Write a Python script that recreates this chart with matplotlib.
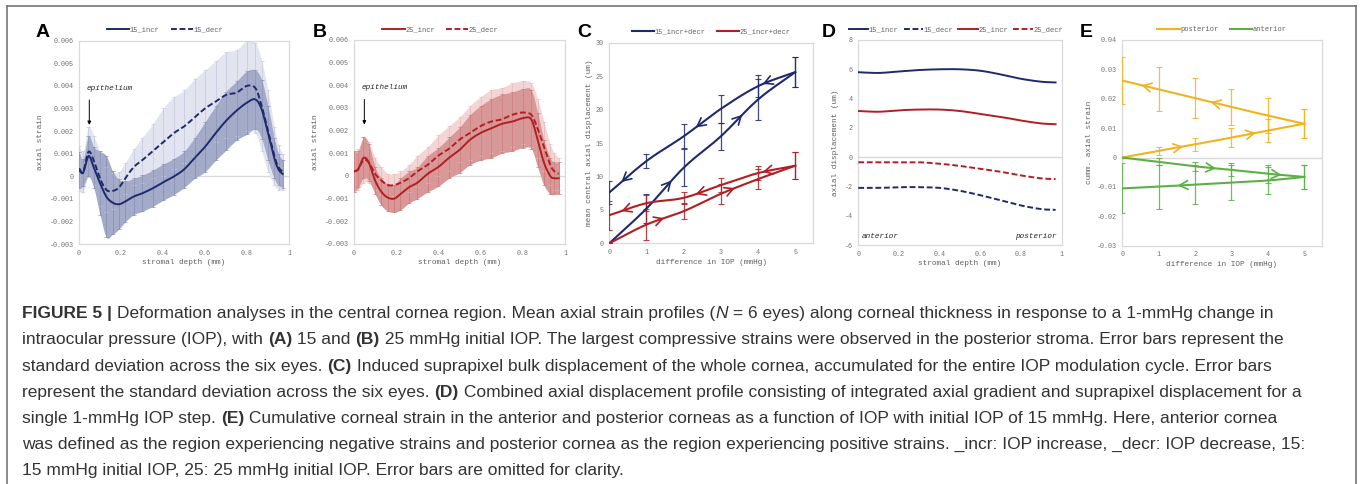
import numpy as np
import matplotlib
matplotlib.use("Agg")
import matplotlib.pyplot as plt
from matplotlib.lines import Line2D
from matplotlib.font_manager import FontProperties
from matplotlib.ticker import FixedLocator, FuncFormatter

W, H, DPI = 1360, 484, 100

# ---------------- panel A : 15 mmHg initial IOP ----------------
depth_ab = [0, 0.02, 0.045, 0.07, 0.1, 0.13, 0.16, 0.19, 0.22, 0.26, 0.3, 0.35, 0.4,
            0.45, 0.5, 0.55, 0.6, 0.65, 0.7, 0.75, 0.8, 0.84, 0.87, 0.9, 0.93, 0.95, 0.97]
strain_15_incr = [0.00028, 0.00016, 0.00089, 0.0004, -0.0003, -0.0009, -0.00117, -0.00124,
                  -0.00112, -0.0009, -0.00076, -0.00054, -0.00027, -0.00002, 0.0003, 0.0008,
                  0.0013, 0.0019, 0.00245, 0.0029, 0.00326, 0.0034, 0.00296, 0.0019, 0.0008,
                  0.0003, 0.0001]
sd_15_incr = [0.0008, 0.0006, 0.0009, 0.0009, 0.0014, 0.0018, 0.0014, 0.0011, 0.0009, 0.0008,
              0.0008, 0.0008, 0.0008, 0.0008, 0.0008, 0.0009, 0.0011, 0.0012, 0.0013, 0.0013,
              0.0014, 0.0013, 0.0013, 0.0012, 0.0009, 0.0007, 0.0006]
strain_15_decr = [0.00035, 0.0002, 0.00108, 0.0007, -0.0001, -0.0006, -0.00065, -0.0005,
                  -0.0001, 0.0004, 0.0007, 0.0011, 0.0015, 0.0019, 0.0022, 0.0026, 0.0030,
                  0.0033, 0.0036, 0.0037, 0.0040, 0.0039, 0.0031, 0.0020, 0.0009, 0.0004, 0.0002]
sd_15_decr = [0.001, 0.0009, 0.0011, 0.0011, 0.0012, 0.001, 0.0008, 0.0007, 0.0007, 0.0008,
              0.001, 0.0012, 0.0015, 0.0016, 0.0016, 0.0017, 0.0017, 0.0018, 0.0019, 0.0019,
              0.002, 0.002, 0.002, 0.0018, 0.0013, 0.001, 0.0008]

# ---------------- panel B : 25 mmHg initial IOP ----------------
strain_25_incr = [0.0002, 0.0003, 0.0008, 0.0006, -0.0002, -0.0007, -0.00095, -0.001, -0.0008,
                  -0.0005, -0.0003, 0.0001, 0.0004, 0.0008, 0.00115, 0.0016, 0.0019, 0.0021,
                  0.0023, 0.0024, 0.00255, 0.0025, 0.0016, 0.0006, 0.0, -0.0001, -0.0001]
sd_25_incr = [0.0009, 0.0008, 0.0009, 0.0008, 0.0006, 0.0006, 0.0006, 0.0006, 0.0007, 0.0007,
              0.0007, 0.0008, 0.00085, 0.0009, 0.001, 0.0011, 0.0012, 0.0013, 0.0013, 0.0013,
              0.0013, 0.0013, 0.0012, 0.001, 0.0008, 0.0007, 0.0007]
strain_25_decr = [0.0002, 0.0003, 0.0007, 0.0006, 0.0001, -0.0002, -0.0004, -0.0004, -0.0003,
                  -0.0001, 0.0002, 0.0005, 0.0009, 0.0012, 0.0016, 0.0019, 0.0022, 0.0024,
                  0.0025, 0.0027, 0.0028, 0.0027, 0.0021, 0.0013, 0.0005, 0.0002, 0.0001]
sd_25_decr = [0.0009, 0.0009, 0.001, 0.0009, 0.0007, 0.0006, 0.0005, 0.0005, 0.0005, 0.0006,
              0.0007, 0.0008, 0.0009, 0.001, 0.001, 0.0012, 0.0013, 0.0014, 0.0014, 0.0014,
              0.0014, 0.0014, 0.0013, 0.0011, 0.0009, 0.0008, 0.0007]

# ---------------- panel C : bulk displacement ----------------
iop_diff = [0, 1, 2, 3, 4, 5]
disp_15_incr = [0, 5.2, 11.3, 16.0, 21.5, 25.6]
disp_15_decr = [7.6, 12.3, 16.0, 20.1, 23.5, 25.6]
sdc_15_incr = [0, 2.1, 2.8, 2.0, 3.0, 2.2]
sdc_15_decr = [1.7, 1.1, 1.8, 2.1, 1.6, 2.2]
disp_25_incr = [0, 2.8, 4.8, 7.4, 9.6, 11.6]
disp_25_decr = [4.2, 6.0, 6.8, 8.7, 10.5, 11.6]
sdc_25_incr = [0, 2.3, 1.2, 1.5, 1.5, 2.0]
sdc_25_decr = [2.2, 1.2, 0.9, 1.0, 1.0, 2.0]

# ---------------- panel D : combined displacement profile ----------------
depth_d = [0, 0.1, 0.2, 0.3, 0.4, 0.5, 0.6, 0.7, 0.8, 0.9, 0.97]
prof_15_incr = [5.8, 5.75, 5.85, 5.95, 6.0, 6.0, 5.9, 5.65, 5.35, 5.15, 5.1]
prof_15_decr = [-2.1, -2.1, -2.05, -2.05, -2.1, -2.3, -2.6, -2.95, -3.3, -3.55, -3.6]
prof_25_incr = [3.15, 3.1, 3.2, 3.25, 3.25, 3.15, 2.95, 2.75, 2.5, 2.3, 2.25]
prof_25_decr = [-0.35, -0.35, -0.35, -0.35, -0.45, -0.6, -0.8, -1.0, -1.25, -1.45, -1.5]

# ---------------- panel E : cumulative strain ----------------
post_incr = [0, 0.0023, 0.0045, 0.0068, 0.0092, 0.0115]
post_decr = [0.0262, 0.0232, 0.0202, 0.0172, 0.0143, 0.0115]
post_incr_sd = [0, 0.0013, 0.0022, 0.0033, 0.004, 0.005]
post_decr_sd = [0.008, 0.0075, 0.0067, 0.006, 0.0058, 0.005]
ant_incr = [0, -0.0015, -0.003, -0.0042, -0.0055, -0.0066]
ant_decr = [-0.0105, -0.0099, -0.0092, -0.0085, -0.0078, -0.0066]
ant_incr_sd = [0, 0.0012, 0.0015, 0.0022, 0.003, 0.0041]
ant_decr_sd = [0.0085, 0.0075, 0.0065, 0.006, 0.0047, 0.0041]

NAVY = "#1f2a6e"
RED = "#b21e24"
GOLD = "#f2b320"
GREEN = "#5bb046"
SPINE = "#d9d9d9"
TICK = "#727272"
MONO = "Liberation Mono"
SANS = "Liberation Sans"


def smooth(x, y, n=16):
    """Catmull-Rom path through the points (smoothed line rendering)."""
    P = np.column_stack([np.asarray(x, float), np.asarray(y, float)])
    P = np.vstack([2 * P[0] - P[1], P, 2 * P[-1] - P[-2]])
    t = np.linspace(0, 1, n, endpoint=False)[:, None]
    out = []
    for i in range(1, len(P) - 2):
        p0, p1, p2, p3 = P[i - 1], P[i], P[i + 1], P[i + 2]
        out.append(0.5 * (2 * p1 + (-p0 + p2) * t + (2 * p0 - 5 * p1 + 4 * p2 - p3) * t ** 2
                          + (-p0 + 3 * p1 - 3 * p2 + p3) * t ** 3))
    out.append(P[-2][None])
    r = np.vstack(out)
    return r[:, 0], r[:, 1]


def px_axes(fig, l, r, t, b):
    return fig.add_axes([l / W, 1 - b / H, (r - l) / W, (b - t) / H])


def style_axes(ax, xticks, yticks, xlabel, ylabel, ylabelpad=4):
    for s in ax.spines.values():
        s.set_color(SPINE)
        s.set_linewidth(0.9)
    ax.tick_params(length=0, labelsize=4.9, labelcolor=TICK, pad=4)
    ax.xaxis.set_major_locator(FixedLocator(xticks))
    ax.yaxis.set_major_locator(FixedLocator(yticks))
    fmt = FuncFormatter(lambda v, p: f"{v:g}")
    ax.xaxis.set_major_formatter(fmt)
    ax.yaxis.set_major_formatter(fmt)
    for lab in ax.get_xticklabels() + ax.get_yticklabels():
        lab.set_family(MONO)
    ax.set_xlabel(xlabel, family=MONO, fontsize=5.6, color="#606060", labelpad=2)
    ax.set_ylabel(ylabel, family=MONO, fontsize=5.6, color="#606060", labelpad=ylabelpad)


def legend(ax, handles, labels, xc, hl=3.2, cs=1.6):
    lg = ax.legend(handles, labels, loc="lower center", bbox_to_anchor=(xc, 1.0), ncol=len(labels),
                   frameon=False, handlelength=hl, handletextpad=0.1, columnspacing=cs,
                   borderaxespad=0.6, prop=FontProperties(family=MONO, size=5))
    for t in lg.get_texts():
        t.set_color("#606060")


def strain_panel(ax, m_incr, s_incr, m_decr, s_decr, col, light, dark, bar_l, bar_d, lab):
    x = np.asarray(depth_ab)
    for m, s, fc, bc in ((m_decr, s_decr, light, bar_l), (m_incr, s_incr, dark, bar_d)):
        m = np.asarray(m)
        s = np.asarray(s)
        xs, lo = smooth(x, m - s)
        _, hi = smooth(x, m + s)
        ax.fill_between(xs, lo, hi, color=fc, lw=0, zorder=2)
        ax.errorbar(x, m, yerr=s, fmt="none", ecolor=bc, elinewidth=0.6, capsize=1.2,
                    capthick=0.5, zorder=3)
    ax.axhline(0, color=SPINE, lw=1, zorder=1)
    xs, ys = smooth(x, m_incr)
    ax.plot(xs, ys, color=col, lw=1.4, zorder=5)
    xs, ys = smooth(x, m_decr)
    ax.plot(xs, ys, color=col, lw=1.4, ls=(0, (3, 1.4)), zorder=5)
    ax.set_xlim(0, 1)
    ax.set_ylim(-0.003, 0.006)
    style_axes(ax, [0, 0.2, 0.4, 0.6, 0.8, 1], np.round(np.arange(-0.003, 0.0061, 0.001), 3),
               "stromal depth (mm)", "axial strain")
    legend(ax, [Line2D([], [], color=col, lw=1.4), Line2D([], [], color=col, lw=1.4, ls=(0, (3, 1.4)))],
           [f"{lab}_incr", f"{lab}_decr"], 0.41)
    ax.annotate("", xy=(0.049, 0.00215), xytext=(0.049, 0.0035),
                arrowprops=dict(arrowstyle="-|>", color="black", lw=0.7, mutation_scale=5))
    ax.text(0.037, 0.0039, "epithelium", family=MONO, style="italic", fontsize=5.5,
            va="center", color="#222222")


def arrows_on(ax, xs, ys, positions, forward, col, lw):
    for p in positions:
        i = int(np.argmin(np.abs(xs - p)))
        j = i + 3 if forward else i - 3
        ax.annotate("", xy=(xs[j], ys[j]), xytext=(xs[i], ys[i]),
                    arrowprops=dict(arrowstyle="->,head_length=0.6,head_width=0.32", color=col,
                                    lw=lw, shrinkA=0, shrinkB=0), zorder=6)


fig = plt.figure(figsize=(W / DPI, H / DPI), dpi=DPI)

# outer frame of the figure block
for xs_, ys_ in (([7, 7], [H, 6]), ([7, 1356], [6, 6]), ([1356, 1356], [6, H])):
    fig.add_artist(Line2D(np.array(xs_) / W, 1 - np.array(ys_) / H, color="#6b6b6b", lw=1.1))

# panel letters
for letter, xp in (("A", 36), ("B", 313), ("C", 577), ("D", 822), ("E", 1080)):
    fig.text(xp / W, 1 - 37 / H, letter, family=SANS, weight="bold", fontsize=14, va="baseline")

# A
axA = px_axes(fig, 79, 289, 40.7, 244)
strain_panel(axA, strain_15_incr, sd_15_incr, strain_15_decr, sd_15_decr, NAVY,
             "#e2e5ef", "#a4abc8", "#c8cde0", "#8a92b6", "15")
# B
axB = px_axes(fig, 354, 565, 40, 244)
strain_panel(axB, strain_25_incr, sd_25_incr, strain_25_decr, sd_25_decr, RED,
             "#f3d5d5", "#d99898", "#ebbdbd", "#c97d7d", "25")

# C
axC = px_axes(fig, 609.3, 812.7, 42.7, 243.3)
x = np.asarray(iop_diff, float)
for inc, dec, s_inc, s_dec, col in ((disp_15_incr, disp_15_decr, sdc_15_incr, sdc_15_decr, NAVY),
                                    (disp_25_incr, disp_25_decr, sdc_25_incr, sdc_25_decr, RED)):
    axC.errorbar(x, inc, yerr=s_inc, fmt="none", ecolor=col, elinewidth=0.9, capsize=2,
                 capthick=0.8, alpha=0.85, zorder=3)
    axC.errorbar(x, dec, yerr=s_dec, fmt="none", ecolor=col, elinewidth=0.9, capsize=2,
                 capthick=0.8, alpha=0.85, zorder=3)
    xs, ys = smooth(x, inc, 40)
    axC.plot(xs, ys, color=col, lw=1.5, zorder=4)
    arrows_on(axC, xs, ys, [1.6, 3.5] if col == NAVY else [1.4, 3.3], True, col, 1.2)
    xs, ys = smooth(x, dec, 40)
    axC.plot(xs, ys, color=col, lw=1.5, zorder=4)
    arrows_on(axC, xs, ys, [4.2, 2.4, 0.4], False, col, 1.2)
axC.set_xlim(0, 5.47)
axC.set_ylim(0, 30)
style_axes(axC, [0, 1, 2, 3, 4, 5], [0, 5, 10, 15, 20, 25, 30], "difference in IOP (mmHg)",
           "mean central axial displacement (um)", ylabelpad=2)
legend(axC, [Line2D([], [], color=NAVY, lw=1.5), Line2D([], [], color=RED, lw=1.5)],
       ["15_incr+decr", "25_incr+decr"], 0.5)

# D
axD = px_axes(fig, 858.3, 1061.7, 40, 245)
axD.axhline(0, color=SPINE, lw=1, zorder=1)
dash = (0, (3, 1.4))
for prof, col, ls in ((prof_15_incr, NAVY, "-"), (prof_15_decr, NAVY, dash),
                      (prof_25_incr, RED, "-"), (prof_25_decr, RED, dash)):
    xs, ys = smooth(depth_d, prof, 20)
    axD.plot(xs, ys, color=col, lw=1.4, ls=ls, zorder=4)
axD.set_xlim(0, 1)
axD.set_ylim(-6, 8)
style_axes(axD, [0, 0.2, 0.4, 0.6, 0.8, 1], [-6, -4, -2, 0, 2, 4, 6, 8], "stromal depth (mm)",
           "axial displacement (um)")
axD.text(0.015, -5.45, "anterior", family=MONO, style="italic", fontsize=5.5, color="#222222",
         va="center")
axD.text(0.975, -5.45, "posterior", family=MONO, style="italic", fontsize=5.5, color="#222222",
         va="center", ha="right")
legend(axD, [Line2D([], [], color=NAVY, lw=1.4), Line2D([], [], color=NAVY, lw=1.4, ls=dash),
             Line2D([], [], color=RED, lw=1.4), Line2D([], [], color=RED, lw=1.4, ls=dash)],
       ["15_incr", "15_decr", "25_incr", "25_decr"], 0.48, hl=2.8, cs=0.7)

# E
axE = px_axes(fig, 1122.3, 1321.7, 40, 245.7)
axE.axhline(0, color=SPINE, lw=1, zorder=1)
for inc, dec, s_inc, s_dec, col, a_inc, a_dec in (
        (post_incr, post_decr, post_incr_sd, post_decr_sd, GOLD, [1.6, 3.6], [0.6, 2.5]),
        (ant_incr, ant_decr, ant_incr_sd, ant_decr_sd, GREEN, [2.5, 4.3], [1.6])):
    axE.errorbar(x, inc, yerr=s_inc, fmt="none", ecolor=col, elinewidth=0.9, capsize=2,
                 capthick=0.8, alpha=0.85, zorder=3)
    axE.errorbar(x, dec, yerr=s_dec, fmt="none", ecolor=col, elinewidth=0.9, capsize=2,
                 capthick=0.8, alpha=0.85, zorder=3)
    xs, ys = smooth(x, inc, 40)
    axE.plot(xs, ys, color=col, lw=1.5, zorder=4)
    arrows_on(axE, xs, ys, a_inc, True, col, 1.2)
    xs, ys = smooth(x, dec, 40)
    axE.plot(xs, ys, color=col, lw=1.5, zorder=4)
    arrows_on(axE, xs, ys, a_dec, False, col, 1.2)
axE.set_xlim(0, 5.48)
axE.set_ylim(-0.03, 0.04)
style_axes(axE, [0, 1, 2, 3, 4, 5], np.round(np.arange(-0.03, 0.041, 0.01), 2),
           "difference in IOP (mmHg)", "cumm. axial strain", ylabelpad=3)
legend(axE, [Line2D([], [], color=GOLD, lw=1.5), Line2D([], [], color=GREEN, lw=1.5)],
       ["posterior", "anterior"], 0.5)

# ---------------- caption ----------------
N_, B_, I_ = ("normal", "normal"), ("bold", "normal"), ("normal", "italic")
caption = [
    [("FIGURE 5 | ", B_), ("Deformation analyses in the central cornea region. Mean axial strain profiles (", N_),
     ("N", I_), (" = 6 eyes) along corneal thickness in response to a 1-mmHg change in", N_)],
    [("intraocular pressure (IOP), with ", N_), ("(A)", B_), (" 15 and ", N_), ("(B)", B_),
     (" 25 mmHg initial IOP. The largest compressive strains were observed in the posterior stroma. Error bars represent the", N_)],
    [("standard deviation across the six eyes. ", N_), ("(C)", B_),
     (" Induced suprapixel bulk displacement of the whole cornea, accumulated for the entire IOP modulation cycle. Error bars", N_)],
    [("represent the standard deviation across the six eyes. ", N_), ("(D)", B_),
     (" Combined axial displacement profile consisting of integrated axial gradient and suprapixel displacement for a", N_)],
    [("single 1-mmHg IOP step. ", N_), ("(E)", B_),
     (" Cumulative corneal strain in the anterior and posterior corneas as a function of IOP with initial IOP of 15 mmHg. Here, anterior cornea", N_)],
    [("was defined as the region experiencing negative strains and posterior cornea as the region experiencing positive strains. _incr: IOP increase, _decr: IOP decrease, 15:", N_)],
    [("15 mmHg initial IOP, 25: 25 mmHg initial IOP. Error bars are omitted for clarity.", N_)],
]
CAP_SIZE = 12.5
renderer = fig.canvas.get_renderer()


def advance(s, prop):
    w1, _, _ = renderer.get_text_width_height_descent("|" + s + "|", prop, ismath=False)
    w0, _, _ = renderer.get_text_width_height_descent("||", prop, ismath=False)
    return w1 - w0


baselines = [318, 344, 371, 397, 423, 449, 475]
for segs, yb in zip(caption, baselines):
    xp = 22.0
    for s, (wt, st) in segs:
        prop = FontProperties(family=SANS, weight=wt, style=st, size=CAP_SIZE)
        fig.text(xp / W, 1 - yb / H, s, fontproperties=prop, color="#333333", va="baseline")
        xp += advance(s, prop)

fig.savefig("out.png", dpi=DPI)
